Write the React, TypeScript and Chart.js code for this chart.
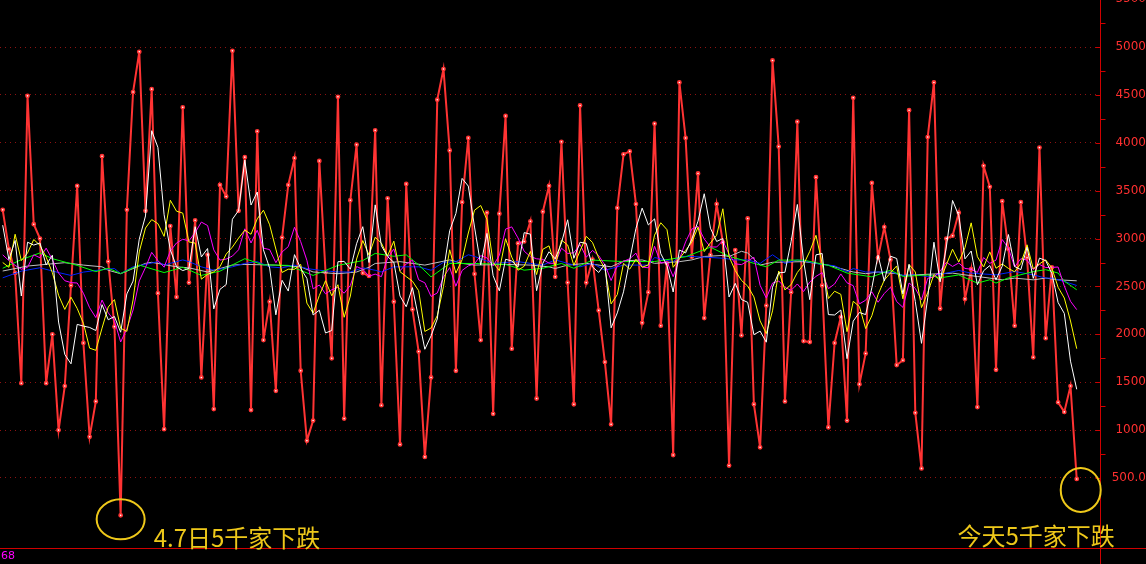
import React, { useEffect, useRef } from 'react';
import { Chart, registerables } from 'chart.js';

Chart.register(...registerables);

// Daily count series (red line with markers)
const breadth = [
  3300, 2890, 2640, 1490, 4490, 3150, 3000, 1490, 2000, 1000,
  1460, 2510, 3550, 1910, 930, 1300, 3860, 2760, 2080, 110,
  3300, 4530, 4950, 3290, 4560, 2430, 1010, 3130, 2390, 4370,
  2540, 3190, 1550, 2830, 1220, 3560, 3440, 4960, 3290, 3850,
  1210, 4120, 1940, 2340, 1410, 3010, 3560, 3840, 1620, 890,
  1100, 3810, 2650, 1750, 4480, 1120, 3400, 3980, 2640, 2610,
  4130, 1260, 3420, 2340, 850, 3570, 2260, 1820, 720, 1550,
  4450, 4770, 3920, 1620, 3380, 4050, 2630, 1940, 3270, 1170,
  3260, 4280, 1850, 2950, 2970, 3180, 1330, 3280, 3550, 2600,
  4010, 2540, 1270, 4390, 2540, 2780, 2250, 1710, 1060, 3320,
  3880, 3910, 3360, 2120, 2440, 4200, 2090, 2740, 740, 4630,
  4050, 2810, 3680, 2170, 2830, 3360, 2960, 630, 2880, 1990,
  3210, 1270, 820, 2300, 4860, 3960, 1300, 2440, 4220, 1930,
  1920, 3640, 2510, 1030, 1910, 2180, 1100, 4470, 1480, 1800,
  3580, 2800, 3120, 2780, 1680, 1730, 4340, 1180, 600, 4060,
  4630, 2270, 3000, 3030, 3270, 2370, 2680, 1240, 3760, 3540,
  1630, 3390, 2890, 2090, 3380, 2800, 1760, 3950, 1960, 2700,
  1290, 1190, 1460, 490,
];

// White line
const whiteLine = [
  3140, 2780, 2980, 2400, 2962, 2932, 2954, 2724, 2826, 2128,
  1790, 1692, 2104, 2086, 2072, 2040, 2310, 2152, 2186, 2022,
  2422, 2556, 2994, 3236, 4126, 3952, 3248, 2884, 2704, 2666,
  2688, 3124, 2808, 2896, 2266, 2470, 2520, 3202, 3294, 3820,
  3350, 3486, 2882, 2692, 2204, 2564, 2452, 2832, 2688, 2584,
  2202, 2252, 2014, 2040, 2758, 2762, 2680, 2946, 3124, 2750,
  3352, 2924, 2812, 2752, 2400, 2288, 2488, 2168, 1844, 1984,
  2160, 2662, 3082, 3262, 3628, 3548, 3120, 2724, 3054, 2612,
  2454, 2784, 2766, 2702, 3062, 3046, 2456, 2742, 2862, 2788,
  2954, 3196, 2794, 2962, 2950, 2704, 2646, 2734, 2068, 2224,
  2444, 2776, 3106, 3318, 3142, 3206, 2842, 2718, 2442, 2880,
  2850, 2994, 3182, 3468, 3108, 2970, 3000, 2390, 2532, 2364,
  2334, 1996, 2034, 1918, 2492, 2642, 2648, 2972, 3356, 2770,
  2362, 2830, 2844, 2206, 2202, 2254, 1746, 2138, 2228, 2206,
  2486, 2826, 2556, 2816, 2792, 2422, 2730, 2342, 1906, 2382,
  2962, 2548, 2912, 3398, 3240, 2788, 2870, 2518, 2664, 2718,
  2570, 2712, 3042, 2708, 2676, 2910, 2584, 2796, 2770, 2634,
  2332, 2218, 1720, 1426,
];

// Yellow line
const yellowLine = [
  2750, 2700, 3045, 2770, 2850, 2990, 2930, 2806, 2644, 2408,
  2260, 2388, 2270, 2115, 1856, 1833, 2065, 2285, 2363, 2063,
  2031, 2359, 2861, 3110, 3198, 3156, 3023, 3400, 3286, 3266,
  2965, 2953, 2576, 2626, 2653, 2706, 2838, 2911, 3005, 3088,
  3045, 3206, 3296, 3144, 2890, 2646, 2680, 2679, 2730, 2326,
  2221, 2405, 2560, 2403, 2518, 2178, 2400, 2786, 2979, 2829,
  3014, 2953, 2820, 2973, 2654, 2603, 2555, 2456, 2030, 2066,
  2195, 2499, 2883, 2639, 2779, 3058, 3296, 3345, 3198, 2748,
  2665, 2998, 2806, 2669, 2711, 2866, 2624, 2888, 2924, 2714,
  2984, 2933, 2720, 2871, 3023, 2960, 2798, 2686, 2318, 2415,
  2741, 2681, 2784, 2701, 2725, 3036, 3165, 3093, 2700, 2790,
  2876, 2963, 3118, 2864, 2956, 3034, 3311, 2811, 2665, 2563,
  2504, 2391, 2140, 2008, 2245, 2661, 2464, 2520, 2646, 2729,
  2866, 3034, 2740, 2374, 2450, 2418, 2028, 2345, 2290, 2060,
  2194, 2415, 2566, 2641, 2714, 2371, 2729, 2651, 2279, 2436,
  2625, 2561, 2726, 2889, 2755, 2904, 3164, 2811, 2703, 2861,
  2690, 2735, 2688, 2653, 2740, 2935, 2685, 2736, 2778, 2691,
  2491, 2379, 2139, 1850,
];

// Magenta line
const magentaLine = [
  2830, 2770, 2720, 2680, 2700, 2830, 2800, 2900, 2780, 2640,
  2560, 2540, 2536, 2429, 2278, 2175, 2358, 2225, 2142, 1920,
  2059, 2254, 2558, 2698, 2856, 2770, 2701, 2870, 2954, 2993,
  2976, 3062, 3172, 3136, 2882, 2775, 2786, 2817, 2883, 3102,
  2954, 3087, 2900, 2885, 2748, 2860, 2916, 3118, 2968, 2772,
  2475, 2515, 2423, 2465, 2492, 2429, 2511, 2708, 2680, 2607,
  2629, 2602, 2796, 2892, 2664, 2735, 2774, 2569, 2538, 2396,
  2432, 2596, 2697, 2504, 2667, 2715, 2738, 2822, 2798, 2715,
  2825, 3099, 3122, 3007, 2868, 2812, 2789, 2782, 2743, 2741,
  2900, 2844, 2852, 2938, 2805, 2876, 2822, 2725, 2562, 2715,
  2762, 2789, 2848, 2702, 2695, 2920, 2743, 2758, 2602, 2785,
  2965, 3099, 3127, 2995, 2912, 2912, 2977, 2838, 2736, 2728,
  2765, 2805, 2512, 2378, 2535, 2557, 2490, 2460, 2526, 2447,
  2546, 2605, 2645, 2477, 2526, 2631, 2538, 2508, 2318, 2356,
  2444, 2335, 2426, 2492, 2342, 2282, 2536, 2480, 2358, 2586,
  2598, 2659, 2752, 2709, 2745, 2688, 2680, 2646, 2802, 2741,
  2775, 2990, 2900, 2705, 2790, 2775, 2677, 2729, 2698, 2699,
  2703, 2505, 2345, 2258,
];

// Slow lines, read at the day positions listed in the *Days arrays
const greenDays = [0, 3, 6, 8, 12, 15, 17, 19, 22, 26, 29, 32, 35, 39, 42, 46, 50, 54, 58, 60, 63, 65, 67, 69, 72, 76, 81, 84, 87, 90, 92, 95, 100, 105, 110, 114, 117, 120, 123, 125, 129, 133, 136, 140, 143, 145, 149, 151, 154, 157, 159, 160, 162, 166, 168, 170, 171, 173];
const greenVals = [2690, 2780, 2850, 2790, 2720, 2655, 2690, 2635, 2723, 2645, 2700, 2615, 2660, 2790, 2725, 2720, 2615, 2720, 2770, 2845, 2815, 2830, 2725, 2600, 2740, 2740, 2730, 2670, 2690, 2740, 2690, 2775, 2760, 2760, 2810, 2910, 2815, 2760, 2705, 2775, 2775, 2720, 2640, 2600, 2670, 2605, 2620, 2590, 2620, 2535, 2570, 2535, 2590, 2655, 2675, 2640, 2555, 2465];

const blueDays = [0, 3, 6, 9, 11, 13, 16, 18, 19, 21, 23, 25, 26, 29, 30, 32, 34, 37, 39, 41, 43, 45, 47, 49, 51, 54, 56, 58, 60, 61, 63, 67, 69, 71, 73, 75, 76, 79, 83, 85, 87, 89, 91, 93, 95, 97, 100, 104, 105, 108, 109, 111, 116, 118, 120, 122, 124, 126, 128, 132, 134, 136, 137, 139, 143, 145, 147, 149, 152, 154, 156, 160, 163, 166, 168, 169, 171, 173];
const blueVals = [2590, 2660, 2695, 2645, 2615, 2650, 2675, 2687, 2635, 2705, 2730, 2759, 2723, 2777, 2759, 2705, 2669, 2705, 2741, 2759, 2705, 2694, 2723, 2687, 2669, 2651, 2651, 2694, 2669, 2651, 2705, 2705, 2669, 2752, 2759, 2831, 2813, 2741, 2759, 2741, 2723, 2777, 2741, 2705, 2741, 2669, 2723, 2723, 2802, 2759, 2813, 2813, 2795, 2777, 2777, 2741, 2831, 2741, 2777, 2730, 2716, 2651, 2687, 2651, 2651, 2615, 2621, 2604, 2639, 2667, 2639, 2621, 2656, 2621, 2587, 2587, 2552, 2510];

const greyDays = [0, 4, 7, 10, 13, 16, 17, 19, 23, 24, 28, 30, 33, 35, 37, 39, 44, 48, 50, 54, 57, 59, 60, 64, 68, 72, 74, 76, 81, 85, 88, 89, 91, 94, 98, 100, 103, 105, 109, 111, 113, 116, 117, 119, 120, 122, 124, 129, 131, 133, 135, 137, 139, 141, 144, 145, 147, 153, 155, 157, 159, 161, 163, 166, 168, 170, 173];
const greyVals = [2661, 2713, 2731, 2748, 2723, 2705, 2669, 2633, 2741, 2752, 2705, 2694, 2651, 2687, 2723, 2730, 2723, 2705, 2651, 2633, 2651, 2700, 2740, 2759, 2723, 2777, 2741, 2723, 2730, 2723, 2705, 2687, 2723, 2741, 2705, 2766, 2777, 2741, 2759, 2777, 2813, 2824, 2813, 2867, 2849, 2723, 2752, 2759, 2741, 2723, 2687, 2651, 2633, 2651, 2633, 2615, 2621, 2639, 2621, 2604, 2587, 2569, 2587, 2569, 2587, 2569, 2559];

// Axis
const yTicks = [500, 1000, 1500, 2000, 2500, 3000, 3500, 4000, 4500, 5000, 5500];
const yMinorTicks = [750, 1250, 1750, 2250, 2750, 3250, 3750, 4250, 4750, 5250];

// Text
const noteLeft = '4.7日5千家下跌';
const noteRight = '今天5千家下跌';
const noteLeftDay = 19;
const noteRightDay = 173;
const cornerLabel = '68';

const ANNO = '#eec81a';

const series = (vals: number[]) => vals.map((v, i) => ({ x: i, y: v }));
const sparse = (days: number[], vals: number[]) => days.map((d, k) => ({ x: d, y: vals[k] }));

const decorPlugin = {
  id: 'decor',
  afterDraw(chart: any) {
    const { ctx, chartArea, scales } = chart;
    const xs = scales.x;
    const ys = scales.y;
    const axisX = Math.round(ys.left) + 0.5;
    ctx.save();
    ctx.strokeStyle = '#d00000';
    ctx.lineWidth = 1;
    // bottom rule
    ctx.beginPath();
    ctx.moveTo(0, Math.round(chartArea.bottom) + 0.5);
    ctx.lineTo(chart.width, Math.round(chartArea.bottom) + 0.5);
    ctx.stroke();
    // axis line full height
    ctx.beginPath();
    ctx.moveTo(axisX, 0);
    ctx.lineTo(axisX, chart.height);
    ctx.stroke();
    // major tick dashes (inside) and minor ticks (outside)
    yTicks.forEach((v) => {
      const p = Math.round(ys.getPixelForValue(v)) + 0.5;
      ctx.beginPath();
      ctx.moveTo(axisX - 5, p);
      ctx.lineTo(axisX, p);
      ctx.stroke();
    });
    yMinorTicks.forEach((v) => {
      const p = Math.round(ys.getPixelForValue(v)) + 0.5;
      ctx.beginPath();
      ctx.moveTo(axisX, p);
      ctx.lineTo(axisX + 5, p);
      ctx.stroke();
    });
    // corner label
    ctx.fillStyle = '#ff00ff';
    ctx.font = '11px "DejaVu Sans"';
    ctx.textBaseline = 'middle';
    ctx.textAlign = 'left';
    ctx.fillText(cornerLabel, 1, chartArea.bottom + 8);

    // annotations
    const ax = xs.getPixelForValue(noteLeftDay);
    const ay = ys.getPixelForValue(breadth[noteLeftDay]);
    const bx = xs.getPixelForValue(noteRightDay);
    const by = ys.getPixelForValue(breadth[noteRightDay]);
    ctx.strokeStyle = ANNO;
    ctx.lineWidth = 2;
    ctx.beginPath();
    ctx.ellipse(ax, ay + 4, 24, 20, 0, 0, Math.PI * 2);
    ctx.stroke();
    ctx.beginPath();
    ctx.ellipse(bx + 4, by + 11, 20, 22, 0, 0, Math.PI * 2);
    ctx.stroke();
    ctx.fillStyle = ANNO;
    ctx.font = '24px "Noto Sans CJK SC"';
    ctx.textBaseline = 'middle';
    ctx.textAlign = 'left';
    ctx.fillText(noteLeft, ax + 33, chartArea.bottom - 10);
    ctx.textAlign = 'right';
    ctx.fillText(noteRight, bx + 38, chartArea.bottom - 12);
    ctx.restore();
  },
};

export default function App() {
  const canvasRef = useRef<HTMLCanvasElement | null>(null);

  useEffect(() => {
    const canvas = canvasRef.current;
    if (!canvas) return;
    const thin = (label: string, data: any[], color: string) => ({
      label,
      data,
      borderColor: color,
      backgroundColor: color,
      borderWidth: 1,
      pointRadius: 0,
      tension: 0,
      fill: false,
    });
    const chart = new Chart(canvas, {
      type: 'line',
      data: {
        datasets: [
          thin('white', series(whiteLine), '#ffffff'),
          thin('yellow', series(yellowLine), '#ffff00'),
          thin('magenta', series(magentaLine), '#ff00ff'),
          thin('green', sparse(greenDays, greenVals), '#00ff00'),
          thin('blue', sparse(blueDays, blueVals), '#0022ff'),
          thin('grey', sparse(greyDays, greyVals), '#c0c0c0'),
          {
            label: 'breadth',
            data: series(breadth),
            borderColor: '#ff3333',
            backgroundColor: '#ff3333',
            borderWidth: 2,
            pointRadius: 1.6,
            pointBorderWidth: 1.6,
            pointBorderColor: '#ff3333',
            pointBackgroundColor: '#ffffff',
            tension: 0,
            fill: false,
          },
        ],
      },
      options: {
        responsive: false,
        animation: false,
        events: [],
        layout: { autoPadding: false, padding: { top: 0, left: 0, right: 0, bottom: 16 } },
        plugins: {
          legend: { display: false },
          tooltip: { enabled: false },
          title: { display: false },
        },
        scales: {
          x: {
            type: 'linear',
            display: false,
            min: -0.435,
            max: 176.75,
          },
          y: {
            type: 'linear',
            position: 'right',
            min: -231,
            max: 5491,
            afterBuildTicks: (scale: any) => {
              scale.ticks = yTicks.map((v) => ({ value: v }));
            },
            afterFit: (scale: any) => {
              scale.width = 46;
              scale.paddingTop = 0;
              scale.paddingBottom = 0;
            },
            ticks: {
              color: '#ff3030',
              font: { family: 'DejaVu Sans', size: 12 },
              padding: 9,
              crossAlign: 'far',
              autoSkip: false,
              callback: (v: any) => (Number(v) === 500 ? '500.0' : String(v)),
            },
            grid: {
              color: '#8e1212',
              lineWidth: 1,
              drawTicks: false,
            },
            border: {
              display: true,
              color: '#d00000',
              width: 1,
              dash: [1, 4],
            },
          },
        },
      },
      plugins: [decorPlugin],
    } as any);
    return () => chart.destroy();
  }, []);

  return (
    <div style={{ position: 'fixed', left: 0, top: 0, width: 1146, height: 564, background: '#000' }}>
      <canvas ref={canvasRef} width={1146} height={564} style={{ display: 'block' }} />
    </div>
  );
}
